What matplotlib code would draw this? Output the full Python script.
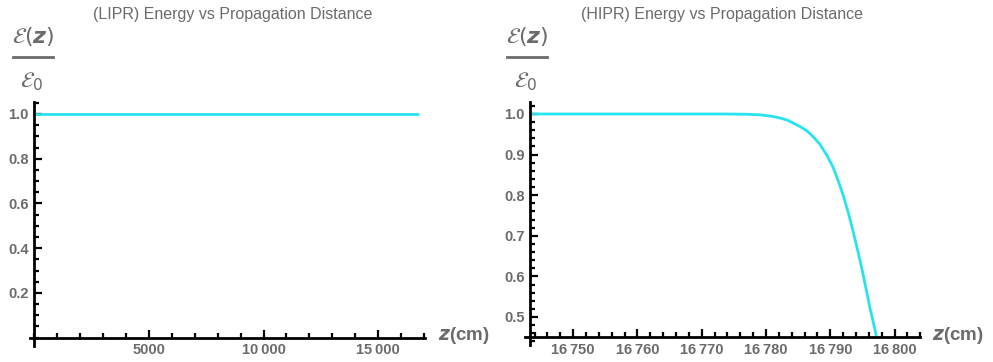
import matplotlib.pyplot as plt
from matplotlib.ticker import MultipleLocator, FixedLocator, FuncFormatter

# energy ratio vs propagation distance
z_lipr = [0.0, 16797.2]
e_lipr = [1.0, 1.0]

z_hipr = [16743.3, 16765.0, 16772.9, 16776.5, 16779.1, 16781.0, 16782.2,
          16783.3, 16784.2, 16785.3, 16786.4, 16787.4, 16788.4, 16789.4,
          16790.4, 16791.2, 16792.0, 16792.8, 16793.5, 16794.2, 16794.9,
          16795.6, 16796.2, 16796.7, 16797.2]
e_hipr = [1.0, 1.0, 1.0, 0.9995, 0.998, 0.994, 0.990,
          0.985, 0.978, 0.969, 0.958, 0.943, 0.925, 0.900,
          0.870, 0.837, 0.800, 0.757, 0.714, 0.668, 0.620,
          0.567, 0.520, 0.486, 0.451]

lipr_xticks = [5000, 10000, 15000]
lipr_yticks = [0.2, 0.4, 0.6, 0.8, 1.0]
hipr_xticks = [16750, 16760, 16770, 16780, 16790, 16800]
hipr_yticks = [0.5, 0.6, 0.7, 0.8, 0.9, 1.0]

W, H = 993, 362
gray = '#6b6b6b'
cyan = '#27e3ef'

plt.rcParams['font.family'] = ['Liberation Sans', 'DejaVu Sans']
fig = plt.figure(figsize=(W / 100, H / 100), dpi=100)


def thin_sep(v, pos):
    s = '%d' % round(v)
    if len(s) > 4:
        s = s[:-3] + '\u2009' + s[-3:]
    return s


def style(ax, x0, y0, xmin_step, ymin_step, xticks, yticks):
    for side in ['top', 'right']:
        ax.spines[side].set_visible(False)
    ax.spines['left'].set_position(('data', x0))
    ax.spines['bottom'].set_position(('data', y0))
    for side in ['left', 'bottom']:
        ax.spines[side].set_linewidth(2)
    ax.xaxis.set_major_locator(FixedLocator(xticks))
    ax.yaxis.set_major_locator(FixedLocator(yticks))
    ax.xaxis.set_minor_locator(MultipleLocator(xmin_step))
    ax.yaxis.set_minor_locator(MultipleLocator(ymin_step))
    ax.xaxis.set_major_formatter(FuncFormatter(thin_sep))
    ax.yaxis.set_major_formatter(FuncFormatter(lambda v, p: '%.1f' % v))
    ax.tick_params(which='both', direction='in', color='black', width=1.6,
                   labelcolor=gray, labelsize=10.5)
    ax.tick_params(which='major', length=6, pad=4)
    ax.tick_params(which='minor', length=3.5)
    for lab in ax.get_xticklabels() + ax.get_yticklabels():
        lab.set_fontweight('bold')
    ax.patch.set_visible(False)


def px(x, y):
    return x / W, 1 - y / H


# left panel
ax1 = fig.add_axes([29.9 / W, (H - 345.5) / H, 395.1 / W, 243.6 / H])
ax1.plot(z_lipr, e_lipr, color=cyan, lw=2.0, solid_capstyle='butt')
ax1.set_xlim(-200, 17050)
ax1.set_ylim(-0.035, 1.054)
style(ax1, 0, 0, 1000, 0.05, lipr_xticks, lipr_yticks)

# right panel
ax2 = fig.add_axes([524.9 / W, (H - 345.4) / H, 395.4 / W, 243.6 / H])
ax2.plot(z_hipr, e_hipr, color=cyan, lw=2.0, solid_capstyle='butt',
         solid_joinstyle='round')
ax2.set_xlim(16742.5, 16804)
ax2.set_ylim(0.43, 1.03)
style(ax2, 16743.3, 0.45, 2, 0.02, hipr_xticks, hipr_yticks)

# titles, axis labels
fig.text(*px(233, 15), '(LIPR) Energy vs Propagation Distance', color=gray,
         fontsize=11.5, ha='center', va='center')
fig.text(*px(722, 15), '(HIPR) Energy vs Propagation Distance', color=gray,
         fontsize=11.5, ha='center', va='center')

for xl, xc in [(33, 464), (527, 958)]:
    fig.text(*px(xl, 37), r'$\mathcal{E}(\boldsymbol{z})$', color=gray,
             fontsize=16, ha='center', va='center')
    fig.add_artist(plt.Line2D([(xl - 20) / W, (xl + 20) / W],
                              [1 - 57 / H, 1 - 57 / H], color=gray, lw=2))
    fig.text(*px(xl - 1, 82), r'$\mathcal{E}_0$', color=gray,
             fontsize=16, ha='center', va='center')
    fig.text(*px(xc, 336), r'$\boldsymbol{z}$(cm)', color=gray, fontsize=13.5,
             fontweight='bold', ha='center', va='center')

fig.savefig('out.png', dpi=100)
